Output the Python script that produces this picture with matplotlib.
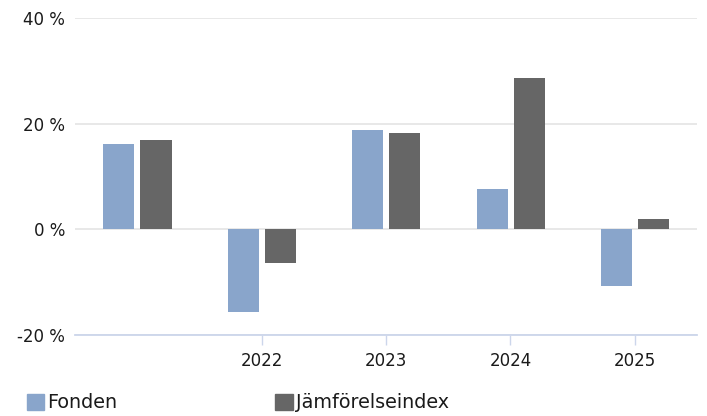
import numpy as np
import matplotlib.pyplot as plt
from matplotlib.patches import Patch

years = ['', '2022', '2023', '2024', '2025']
fonden = [16.1, -15.7, 18.8, 7.6, -10.7]
index = [16.9, -6.4, 18.2, 28.6, 1.9]

blue = '#89a5cb'
grey = '#666666'
text_col = '#1a1a1a'

fig = plt.figure(figsize=(7.07, 4.16), dpi=100)
ax = fig.add_axes([75 / 707, 1 - 335 / 416, 622 / 707, 317 / 416])

x = np.arange(len(years))
w = 0.25
ax.bar(x - 0.147, fonden, width=w, color=blue, zorder=3)
ax.bar(x + 0.151, index, width=w, color=grey, zorder=3)

ax.set_xlim(-0.5, len(years) - 0.5)
ax.set_ylim(-20, 40)
ax.set_yticks([-20, 0, 20, 40])
ax.set_yticklabels(['-20 %', '0 %', '20 %', '40 %'])
ax.set_xticks(x[1:])
ax.set_xticklabels(years[1:])

ax.grid(axis='y', color='#e6e6e6', linewidth=1.3, zorder=0)
for s in ['top', 'right', 'left']:
    ax.spines[s].set_visible(False)
ax.spines['bottom'].set_color('#ccd6eb')
ax.spines['bottom'].set_linewidth(1.3)
ax.tick_params(axis='x', length=7.5, width=1, color='#ccd6eb', pad=5,
               labelsize=12, labelcolor=text_col)
ax.tick_params(axis='y', length=0, pad=7, labelsize=12, labelcolor=text_col)

handles = [Patch(color=blue, label='Fonden'), Patch(color=grey, label='Jämförelseindex')]
fig.legend(handles=handles, loc='center left', bbox_to_anchor=(19 / 707, 1 - 403 / 416),
           ncol=2, frameon=False, fontsize=13.8, handlelength=0.9, handleheight=0.9,
           handletextpad=0.15, columnspacing=8.27, labelcolor=text_col, borderaxespad=0)

fig.savefig('out.png', dpi=100)
